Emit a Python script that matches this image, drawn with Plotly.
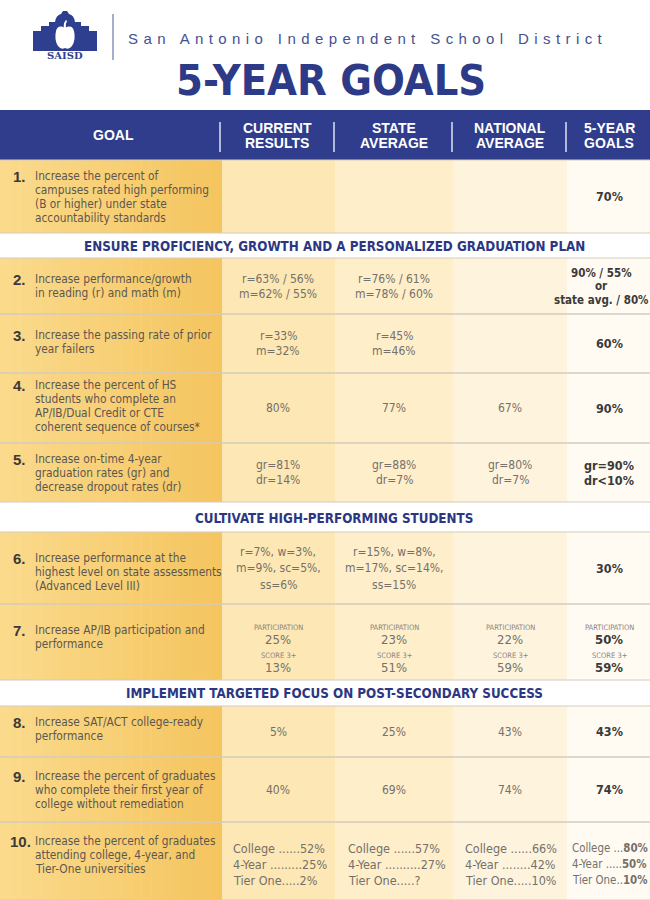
import plotly.graph_objects as go

# ---------------- DATA ----------------
district_name = "San Antonio Independent School District"
title_text = "5-YEAR GOALS"
column_headers = ["GOAL", "CURRENT<br>RESULTS", "STATE<br>AVERAGE", "NATIONAL<br>AVERAGE", "5-YEAR<br>GOALS"]
section_titles = [
    "ENSURE PROFICIENCY, GROWTH AND A PERSONALIZED GRADUATION PLAN",
    "CULTIVATE HIGH-PERFORMING STUDENTS",
    "IMPLEMENT TARGETED FOCUS ON POST-SECONDARY SUCCESS",
]
goal_numbers = ["1.", "2.", "3.", "4.", "5.", "6.", "7.", "8.", "9.", "10."]
goal_texts = [
    "Increase the percent of<br>campuses rated high performing<br>(B or higher) under state<br>accountability standards",
    "Increase performance/growth<br>in reading (r) and math (m)",
    "Increase the passing rate of prior<br>year failers",
    "Increase the percent of HS<br>students who complete an<br>AP/IB/Dual Credit or CTE<br>coherent sequence of courses*",
    "Increase on-time 4-year<br>graduation rates (gr) and<br>decrease dropout rates (dr)",
    "Increase performance at the<br>highest level on state assessments<br>(Advanced Level III)",
    "Increase AP/IB participation and<br>performance",
    "Increase SAT/ACT college-ready<br>performance",
    "Increase the percent of graduates<br>who complete their first year of<br>college without remediation",
    "Increase the percent of graduates<br>attending college, 4-year, and<br>Tier-One universities",
]
# simple cells (rows 1-6, 8, 9); rows 7 and 10 come from the arrays below
current_results = ["", "r=63% / 56%<br>m=62% / 55%", "r=33%<br>m=32%", "80%", "gr=81%<br>dr=14%",
                   "r=7%, w=3%,<br>m=9%, sc=5%,<br>ss=6%", None, "5%", "40%", None]
state_average = ["", "r=76% / 61%<br>m=78% / 60%", "r=45%<br>m=46%", "77%", "gr=88%<br>dr=7%",
                 "r=15%, w=8%,<br>m=17%, sc=14%,<br>ss=15%", None, "25%", "69%", None]
national_average = ["", "", "", "67%", "gr=80%<br>dr=7%", "", None, "43%", "74%", None]
five_year_goals = ["70%", "90% / 55%<br>or<br>state avg. / 80%", "60%", "90%", "gr=90%<br>dr<10%",
                   "30%", None, "43%", "74%", None]
# row 7 (current, state, national, 5-year)
ap_participation = ["25%", "23%", "22%", "50%"]
ap_score3 = ["13%", "51%", "59%", "59%"]
ap_labels = ["PARTICIPATION", "SCORE 3+"]
# row 10 (current, state, national, 5-year)
college_labels = ["College", "4-Year", "Tier One"]
college_pct = ["52%", "57%", "66%", "80%"]
four_year_pct = ["25%", "27%", "42%", "50%"]
tier_one_pct = ["2%", "?", "10%", "10%"]

# ---------------- LAYOUT / STYLE ----------------
W, H = 650, 900
NAVY = "#2f3d8c"
TITLE_BLUE = "#2c3a88"
NARROW = "Liberation Sans Narrow, Arial Narrow, DejaVu Sans Condensed, sans-serif"
SANS = "Liberation Sans, Arial, sans-serif"
col_bounds = [(0, 222), (222, 335), (335, 453), (453, 567), (567, 650)]
col_fill = ["#f8d37c", "#fde7b4", "#feeeca", "#fef4de", "#fffbf3"]
row_bounds = [(160, 233), (258, 314), (314, 373), (373, 443), (443, 502),
              (532, 604), (604, 680), (706, 757), (757, 822), (822, 900)]
section_y = [246, 518, 693]
goal_center_y = [197, 286, 342, 406, 473, 572, 637, 729, 790, 855]
leader_dots = [[6, 9, 5], [6, 10, 5], [6, 8, 5], [3, 5, 2]]

fig = go.Figure()
shapes = []
ann = []


def rect(x0, y0, x1, y1, color, line=None):
    shapes.append(dict(type="rect", xref="x", yref="y", x0=x0, y0=y0, x1=x1, y1=y1,
                       fillcolor=color, line=dict(width=0) if line is None else line, layer="below"))


def text(x, y, s, size, color, family=NARROW, xanchor="center", yanchor="middle"):
    ann.append(dict(x=x, y=y, xref="x", yref="y", text=s, showarrow=False,
                    font=dict(size=size, color=color, family=family),
                    xanchor=xanchor, yanchor=yanchor, align="left" if xanchor == "left" else "center"))


def lines(x, yc, s, size, color, lh, family=NARROW, xanchor="center"):
    parts = s.split("<br>")
    y0 = yc - (len(parts) - 1) * lh / 2
    for i, p in enumerate(parts):
        text(x, y0 + i * lh, p, size, color, family, xanchor)
    return y0


# ---- logo ----
logo_path = ("M33,51 L33,31 L41,31 L41,26 L49,26 L49,22 L55,22 Q56,15 61,14 L63,11 L67,11 L69,14 "
             "Q74,15 75,22 L81,22 L81,26 L89,26 L89,31 L97,31 L97,51 Z")
shapes.append(dict(type="path", path=logo_path, xref="x", yref="y", fillcolor="#2f3f8f",
                   line=dict(width=0)))
shapes.append(dict(type="path", xref="x", yref="y",
                   path="M65,28 Q58,24 56,31 Q54,40 58,46 Q61,50 65,48 Q69,50 72,46 Q76,40 74,31 Q72,24 65,28 Z",
                   fillcolor="white", line=dict(width=0)))
shapes.append(dict(type="path", xref="x", yref="y", path="M64,28 Q63,23 66,20 L67,21 Q65,24 66,28 Z",
                   fillcolor="white", line=dict(width=0)))
text(65, 55, "<b>SAISD</b>", 10, "#2f3f8f", family="DejaVu Serif, serif")
shapes.append(dict(type="line", xref="x", yref="y", x0=113, x1=113, y0=14, y1=60,
                   line=dict(color="#6c76a8", width=1.2)))
text(126, 38, '<span style="letter-spacing:5.4px">' + district_name + "</span>", 15, "#45518f",
     family=SANS, xanchor="left")
text(331, 80, "<b>" + title_text + "</b>", 43, TITLE_BLUE, family=NARROW)

# ---- header bar ----
rect(0, 110, W, 160, NAVY)
for xb in [220, 334, 452, 566]:
    shapes.append(dict(type="line", xref="x", yref="y", x0=xb, x1=xb, y0=122, y1=152,
                       line=dict(color="#dfe3f2", width=1.5)))
hdr_x = [113, 277, 394, 510, 609]
for hx, h in zip(hdr_x, column_headers):
    lines(hx, 135, "<b>" + h.replace("<br>", "</b><br><b>") + "</b>", 14, "white", 15, family=SANS)

# ---- body columns ----
blocks = [(160, 233), (258, 502), (532, 680), (706, 900)]
for (b0, b1) in blocks:
    nstrip = 22
    for k in range(nstrip):
        t = k / (nstrip - 1)
        r = int(251 + (245 - 251) * t)
        g = int(218 + (198 - 218) * t)
        bcol = int(140 + (96 - 140) * t)
        rect(222 * k / nstrip, b0, 222 * (k + 1) / nstrip + 0.5, b1, f"rgb({r},{g},{bcol})")
    for c in range(1, 5):
        rect(col_bounds[c][0], b0, col_bounds[c][1], b1, col_fill[c])

# row separators
for i, (y0, y1) in enumerate(row_bounds):
    for yy in (y0, y1):
        shapes.append(dict(type="line", xref="x", yref="y", x0=0, x1=W, y0=yy, y1=yy,
                           line=dict(color="#d3cbbd", width=1), layer="above"))

# sections
for sy, st in zip(section_y, section_titles):
    text(334, sy, "<b>" + st + "</b>", 13.3, "#2b3782", family=NARROW)

# goal column
GOAL_LH = 14.3
for i in range(10):
    y_first = lines(33, goal_center_y[i], goal_texts[i], 11.8, "#5c5750", GOAL_LH, xanchor="left")
    text(11 if i < 9 else 8, y_first + 1, "<b>" + goal_numbers[i] + "</b>", 15, "#3c3a38",
         family=SANS, xanchor="left")

# value columns
val_x = [278, 394, 510, 609]
VAL_LH = 15
cols_data = [current_results, state_average, national_average, five_year_goals]
for c, data in enumerate(cols_data):
    for i, v in enumerate(data):
        if v is None or v == "":
            continue
        yc = (row_bounds[i][0] + row_bounds[i][1]) / 2
        if c == 3:
            if i == 1:
                lines(601, yc, "<b>" + v.replace("<br>", "</b><br><b>") + "</b>", 11.5, "#3a3a3a",
                      13.5, family=NARROW)
            else:
                lines(val_x[c], yc, "<b>" + v.replace("<br>", "</b><br><b>") + "</b>", 12.5, "#3a3a3a",
                      VAL_LH, family=NARROW)
        else:
            lines(val_x[c], yc, v, 12, "#74706a", VAL_LH + (1.5 if i == 5 else 0))

# row 7
for c in range(4):
    bold = c == 3
    vcol = "#3a3a3a" if bold else "#74706a"
    fmt = (lambda s: "<b>" + s + "</b>") if bold else (lambda s: s)
    text(val_x[c], 627, ap_labels[0], 7.5, "#8a857e", family=NARROW)
    text(val_x[c], 639, fmt(ap_participation[c]), 13, vcol)
    text(val_x[c], 655, ap_labels[1], 7.5, "#8a857e", family=NARROW)
    text(val_x[c], 667, fmt(ap_score3[c]), 13, vcol)

# row 10
row10_x = [231, 346, 463, 570]
vals10 = [college_pct, four_year_pct, tier_one_pct]
for c in range(4):
    bold = c == 3
    for j in range(3):
        v = vals10[j][c]
        dots = "." * leader_dots[c][j]
        lab = college_labels[j] + (" " if j < 2 else "")
        s = lab + dots + (("<b>" + v + "</b>") if bold else v)
        text(row10_x[c], 848 + j * 16, s, 11.4 if bold else 12.5, "#74706a", xanchor="left")

fig.update_layout(
    width=W, height=H, margin=dict(l=0, r=0, t=0, b=0),
    paper_bgcolor="white", plot_bgcolor="white",
    xaxis=dict(range=[0, W], visible=False, fixedrange=True),
    yaxis=dict(range=[H, 0], visible=False, fixedrange=True),
    shapes=shapes, annotations=ann, showlegend=False,
)
fig.write_html("out.html", config={"displayModeBar": False},
               post_script="document.body.style.margin='0';")
